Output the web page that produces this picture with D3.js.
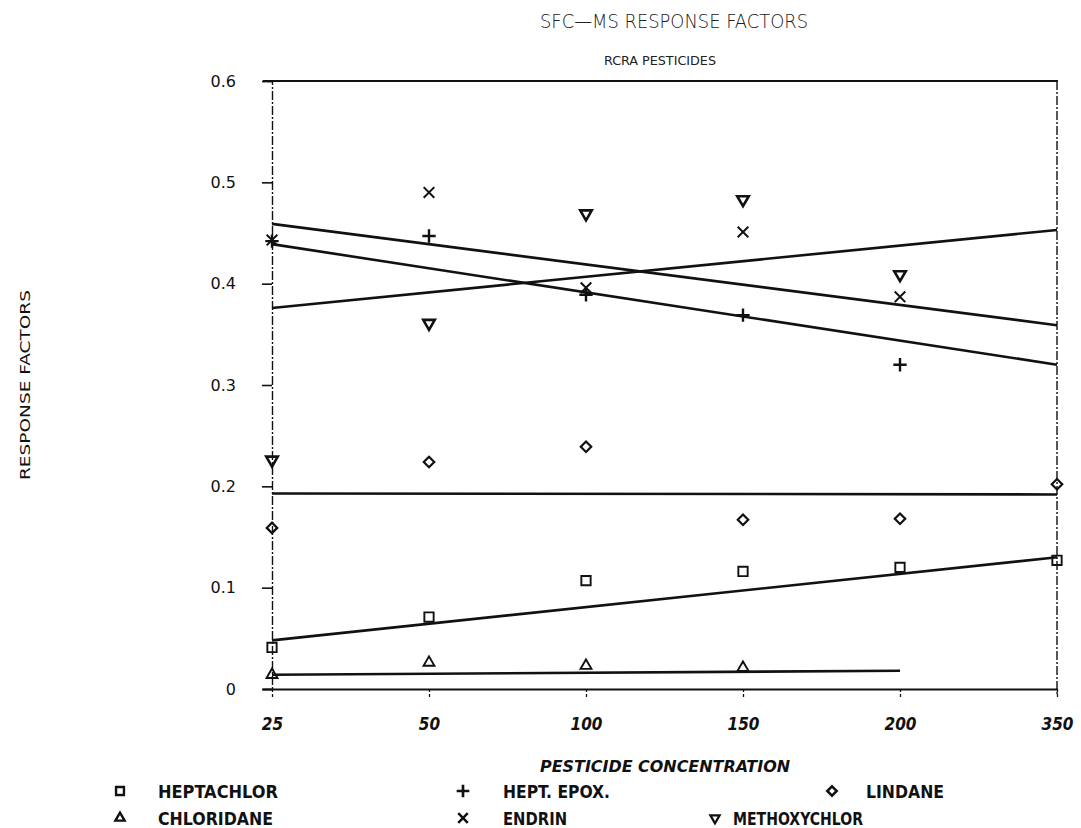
<!DOCTYPE html>
<html>
<head>
<meta charset="utf-8">
<script src="https://cdn.jsdelivr.net/npm/d3@7"></script>
<style>
  html, body { margin: 0; padding: 0; background: #fff; }
  svg { display: block; }
  .lbl { font-family: "Liberation Sans Narrow", "DejaVu Sans Condensed", "DejaVu Sans", sans-serif; font-weight: bold; fill: #111; }
</style>
</head>
<body>
<svg id="chart" width="1081" height="828"></svg>
<script>
// Pesticide concentrations (categorical x axis)
const concentrations = ["25", "50", "100", "150", "200", "350"];

// Response factors per pesticide (null = not measured)
const heptachlor   = [0.041, 0.071, 0.107, 0.116, 0.120, 0.127];
const chloridane   = [0.014, 0.026, 0.023, 0.021, null, null];
const heptEpox     = [0.442, 0.447, 0.389, 0.369, 0.320, null];
const endrin       = [0.443, 0.490, 0.396, 0.451, 0.387, null];
const methoxychlor = [0.226, 0.361, 0.469, 0.483, 0.409, null];
const lindane      = [0.159, 0.224, 0.239, 0.167, 0.168, 0.202];

// Fitted trend lines: value at first concentration, value at last, and last concentration
const seriesNames = ["HEPTACHLOR", "CHLORIDANE", "HEPT. EPOX.", "ENDRIN", "METHOXYCHLOR", "LINDANE"];
const trendStart  = [0.048, 0.014, 0.439, 0.376, 0.459, 0.193];
const trendEnd    = [0.130, 0.018, 0.320, 0.453, 0.359, 0.192];
const trendEndAt  = ["350", "200", "350", "350", "350", "350"];

const yTicks = [0, 0.1, 0.2, 0.3, 0.4, 0.5, 0.6];
const yTickLabels = ["0", "0.1", "0.2", "0.3", "0.4", "0.5", "0.6"];

const svg = d3.select("#chart");
const ink = "#111";

const x = d3.scalePoint().domain(concentrations).range([272, 1057]);
const y = d3.scaleLinear().domain([0, 0.6]).range([689, 81]);

// Titles
svg.append("text").attr("x", 674).attr("y", 28).attr("text-anchor", "middle")
  .attr("font-family", "DejaVu Sans, sans-serif").attr("font-size", 20).attr("font-weight", 300)
  .attr("fill", "#222").attr("textLength", 268).attr("lengthAdjust", "spacingAndGlyphs")
  .text("SFC\u2014MS RESPONSE FACTORS");
svg.append("text").attr("x", 660).attr("y", 65).attr("text-anchor", "middle")
  .attr("font-family", "DejaVu Sans Condensed, DejaVu Sans, sans-serif").attr("font-size", 12)
  .attr("fill", "#222").attr("textLength", 112).attr("lengthAdjust", "spacingAndGlyphs")
  .text("RCRA PESTICIDES");

// Frame: solid top and bottom, dash-dot left and right sides
svg.append("line").attr("x1", 263).attr("x2", 1058).attr("y1", y(0.6)).attr("y2", y(0.6))
  .attr("stroke", ink).attr("stroke-width", 2.2);
svg.append("line").attr("x1", 1057).attr("x2", 1057).attr("y1", y(0.6)).attr("y2", y(0) + 6)
  .attr("stroke", ink).attr("stroke-width", 1.4).attr("stroke-dasharray", "9,2,2,2");

// Y axis
const yAxis = svg.append("g").attr("transform", "translate(272,0)")
  .call(d3.axisLeft(y).tickValues(yTicks).tickSize(10).tickPadding(26)
    .tickFormat((d, i) => yTickLabels[i]));
yAxis.select(".domain").attr("stroke", ink).attr("stroke-width", 1.4).attr("stroke-dasharray", "9,2,2,2");
yAxis.selectAll(".tick line").attr("stroke", ink).attr("stroke-width", 1.6);
yAxis.selectAll(".tick text").attr("font-family", "DejaVu Sans, sans-serif").attr("font-size", 16)
  .attr("fill", ink);

// X axis
const xAxis = svg.append("g").attr("transform", `translate(0,${y(0)})`)
  .call(d3.axisBottom(x).tickSize(9).tickPadding(20));
xAxis.select(".domain").attr("d", `M263,0.5H1058`).attr("stroke", ink).attr("stroke-width", 2);
xAxis.selectAll(".tick line").attr("stroke", ink).attr("stroke-width", 1.3).attr("stroke-dasharray", "3,2");
xAxis.selectAll(".tick text").attr("class", "lbl").attr("font-size", 17).attr("font-style", "italic")
  .attr("fill", ink);

// Axis titles
svg.append("text").attr("class", "lbl").attr("x", 665).attr("y", 772).attr("text-anchor", "middle")
  .attr("font-size", 16).attr("font-style", "italic")
  .attr("textLength", 250).attr("lengthAdjust", "spacingAndGlyphs")
  .text("PESTICIDE CONCENTRATION");
svg.append("text").attr("transform", "translate(30,385) rotate(-90)").attr("text-anchor", "middle")
  .attr("font-family", "DejaVu Sans, sans-serif").attr("font-size", 14).attr("fill", ink)
  .attr("textLength", 190).attr("lengthAdjust", "spacingAndGlyphs")
  .text("RESPONSE FACTORS");

// Marker shapes
const markers = [
  d3.symbol().type(d3.symbolSquare2).size(110),
  d3.symbol().type(d3.symbolTriangle2).size(85),
  d3.symbol().type(d3.symbolPlus).size(60),
  d3.symbol().type(d3.symbolTimes).size(75),
  d3.symbol().type(d3.symbolTriangle2).size(95),
  d3.symbol().type(d3.symbolDiamond2).size(70)
];
const rotations = [0, 0, 0, 0, 180, 0];
const strokeW = [1.9, 1.9, 2.4, 2.0, 2.6, 2.2];
const allSeries = [heptachlor, chloridane, heptEpox, endrin, methoxychlor, lindane];

// Trend lines
const line = d3.line().x(d => x(d[0])).y(d => y(d[1]));
seriesNames.forEach((name, i) => {
  svg.append("path")
    .datum([[concentrations[0], trendStart[i]], [trendEndAt[i], trendEnd[i]]])
    .attr("d", line).attr("fill", "none").attr("stroke", ink).attr("stroke-width", 2.6);
});

// Data points
allSeries.forEach((vals, i) => {
  const pts = concentrations.map((c, j) => ({ c, v: vals[j] })).filter(d => d.v != null);
  svg.append("g").selectAll("path").data(pts).join("path")
    .attr("transform", d => `translate(${x(d.c)},${y(d.v)}) rotate(${rotations[i]})`)
    .attr("d", markers[i]()).attr("fill", "none").attr("stroke", ink).attr("stroke-width", strokeW[i]);
});

// Legend
const legendPos = [
  { mx: 120, tx: 158, y: 791, w: 120 },
  { mx: 120, tx: 158, y: 818, w: 115 },
  { mx: 463, tx: 503, y: 791, w: 107 },
  { mx: 463, tx: 503, y: 818, w: 64 },
  { mx: 715, tx: 733, y: 818, w: 130 },
  { mx: 832, tx: 866, y: 791, w: 78 }
];
const legendScale = [0.85, 0.85, 0.95, 0.9, 0.8, 0.9];
legendPos.forEach((p, i) => {
  svg.append("path")
    .attr("transform", `translate(${p.mx},${p.y}) rotate(${rotations[i]}) scale(${legendScale[i]})`)
    .attr("d", markers[i]()).attr("fill", "none").attr("stroke", ink).attr("stroke-width", 2.8);
  svg.append("text").attr("class", "lbl").attr("x", p.tx).attr("y", p.y + 7)
    .attr("font-size", 17).attr("textLength", p.w).attr("lengthAdjust", "spacingAndGlyphs")
    .text(seriesNames[i]);
});
</script>
</body>
</html>
